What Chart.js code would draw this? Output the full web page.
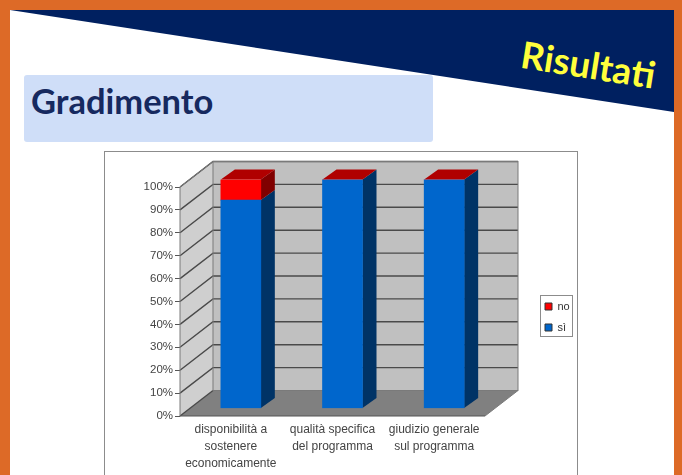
<!DOCTYPE html>
<html lang="it">
<head>
<meta charset="utf-8">
<title>Gradimento</title>
<script src="https://cdn.jsdelivr.net/npm/chart.js@4"></script>
<style>
  html, body { margin: 0; padding: 0; background: #fff; }
  #slide { position: relative; width: 682px; height: 475px; overflow: hidden; background: #fff; }
  #frame { position: absolute; inset: 0 0 -20px 0; border: solid #dd6a27; border-width: 10px 8px 0 10px; }
  #banner { position: absolute; left: 10px; top: 10px; width: 664px; height: 102px; background: #002060; clip-path: polygon(0 0, 100% 0, 100% 100%); }
  #section { position: absolute; left: 24px; top: 75px; width: 409px; height: 67px; background: #cfdef8; border-radius: 3px; }
  #section span { position: absolute; left: 7px; top: 5px; font: bold 34.5px Lato, sans-serif; color: #16295f; }
  #tag { position: absolute; left: 525px; top: 31px; font: bold 37px Lato, sans-serif; color: #ffff3c; transform: rotate(9deg); transform-origin: left top; }
  #panel { position: absolute; left: 104px; top: 151px; width: 472px; height: 340px; background: #fff; border: 1px solid #8c8c8c; }
  canvas { position: absolute; left: 0; top: 0; }
</style>
</head>
<body>
<div id="slide">
  <div id="frame"></div>
  <div id="banner"></div>
  <div id="section"><span>Gradimento</span></div>
  <div id="tag">Risultati</div>
  <div id="panel"></div>
  <canvas id="chart" width="682" height="475"></canvas>
</div>
<script>
// --- data ---
const categories = [
  ["disponibilità a", "sostenere", "economicamente"],
  ["qualità specifica", "del programma"],
  ["giudizio generale", "sul programma"]
];
const si = [91, 100, 100];
const no = [9, 0, 0];

// fake 3D depth of the walls and of the bars
const wallDepth = { x: 33, y: -25.5 };
const barShift = { x: 10, y: -7.5 };
const barDepth = { x: 14, y: -10 };

const faceColors = {
  si: { side: "#003366", top: "#003a80" },
  no: { side: "#800000", top: "#b00000" }
};

function poly(ctx, pts, fill) {
  ctx.beginPath();
  pts.forEach((p, i) => i ? ctx.lineTo(p[0], p[1]) : ctx.moveTo(p[0], p[1]));
  ctx.closePath();
  ctx.fillStyle = fill;
  ctx.fill();
}

// walls, floor and gridlines behind the bars, then the bar extrusions
const box3d = {
  id: "box3d",
  beforeLayout(chart) {
    // reserve the space right of the plot without tying it to the legend size
    const legend = chart.legend;
    if (!legend || legend.fitWrapped) return;
    const fit = legend.fit;
    legend.fit = function () { fit.call(this); this.width = 197; };
    legend.fitWrapped = true;
  },
  afterLayout(chart) {
    // legend floats in the right margin; bottom is left generous so items never wrap
    const l = chart.legend;
    l.left = 535; l.right = 577; l.top = 291; l.bottom = 370;
    l.width = 42; l.height = 79;
  },
  beforeDatasetsDraw(chart) {
    const { ctx, chartArea: a, scales: { y } } = chart;
    const dx = wallDepth.x, dy = wallDepth.y;

    poly(ctx, [[a.left + dx, a.top + dy], [a.right + dx, a.top + dy], [a.right + dx, a.bottom + dy], [a.left + dx, a.bottom + dy]], "#c0c0c0");
    poly(ctx, [[a.left, a.top], [a.left + dx, a.top + dy], [a.left + dx, a.bottom + dy], [a.left, a.bottom]], "#cfcfcf");
    poly(ctx, [[a.left, a.bottom], [a.right, a.bottom], [a.right + dx, a.bottom + dy], [a.left + dx, a.bottom + dy]], "#808080");

    ctx.save();
    ctx.strokeStyle = "#4a4a4a";
    ctx.lineWidth = 1.4;
    y.ticks.forEach(t => {
      const py = y.getPixelForValue(t.value);
      ctx.beginPath();
      ctx.moveTo(a.left, py);
      ctx.lineTo(a.left + dx, py + dy);
      if (t.value > 0) ctx.lineTo(a.right + dx, py + dy);
      ctx.stroke();
    });
    ctx.strokeStyle = "#7a7a7a";
    ctx.lineWidth = 1;
    ctx.strokeRect(a.left + dx, a.top + dy, a.right - a.left, a.bottom - a.top);
    ctx.beginPath();
    ctx.moveTo(a.left, a.bottom);
    ctx.lineTo(a.left, a.top);
    ctx.lineTo(a.left + dx, a.top + dy);
    ctx.moveTo(a.right, a.bottom);
    ctx.lineTo(a.right + dx, a.bottom + dy);
    ctx.stroke();
    ctx.strokeStyle = "#555";
    ctx.beginPath();
    ctx.moveTo(a.left, a.bottom);
    ctx.lineTo(a.right, a.bottom);
    ctx.stroke();

    // legend frame
    const l = chart.legend;
    ctx.strokeStyle = "#8c8c8c";
    ctx.strokeRect(l.left + 5.5, l.top + 4.5, 32, 41);
    ctx.restore();

    // side and top faces, lower series first
    ctx.save();
    ctx.translate(barShift.x, barShift.y);
    const top = chart.data.datasets.length - 1;
    chart.data.datasets.forEach((ds, i) => {
      const colors = i === 0 ? faceColors.si : faceColors.no;
      chart.getDatasetMeta(i).data.forEach(bar => {
        const left = bar.x - bar.width / 2, right = bar.x + bar.width / 2;
        poly(ctx, [[right, bar.y], [right + barDepth.x, bar.y + barDepth.y], [right + barDepth.x, bar.base + barDepth.y], [right, bar.base]], colors.side);
        if (i === top) {
          poly(ctx, [[left, bar.y], [left + barDepth.x, bar.y + barDepth.y], [right + barDepth.x, bar.y + barDepth.y], [right, bar.y]], colors.top);
        }
      });
    });
    ctx.restore();

    // front faces are drawn by the bar controller on the shifted plane
    ctx.save();
    ctx.translate(barShift.x, barShift.y);
  },
  afterDatasetsDraw(chart) {
    chart.ctx.restore();
  }
};

new Chart(document.getElementById("chart"), {
  type: "bar",
  data: {
    labels: categories,
    datasets: [
      { label: "sì", data: si, backgroundColor: "#0066cc" },
      { label: "no", data: no, backgroundColor: "#ff0000" }
    ]
  },
  options: {
    responsive: false,
    animation: false,
    events: [],
    layout: { padding: { top: 187 } },
    datasets: { bar: { barThickness: 40 } },
    plugins: {
      tooltip: { enabled: false },
      legend: {
        position: "right",
        reverse: true,
        align: "start",
        labels: {
          boxWidth: 7,
          boxHeight: 7,
          padding: 10,
          color: "#333",
          font: { family: "Liberation Sans", size: 11 },
          // darker swatch outline
          generateLabels: chart => Chart.defaults.plugins.legend.labels.generateLabels(chart)
            .map(item => ({ ...item, strokeStyle: "#333", lineWidth: 1 }))
        }
      }
    },
    scales: {
      x: {
        stacked: true,
        afterFit: s => { s.height = 59; },
        grid: { display: false },
        border: { display: false },
        ticks: {
          maxRotation: 0,
          autoSkip: false,
          padding: -3,
          color: "#444",
          font: { family: "Liberation Sans", size: 12, lineHeight: 1.42 }
        }
      },
      y: {
        stacked: true,
        min: 0,
        max: 100,
        afterFit: s => { s.width = 180; },
        grid: { drawOnChartArea: false, tickLength: 5, color: "#555" },
        border: { display: false },
        ticks: {
          stepSize: 10,
          padding: 2,
          color: "#444",
          font: { family: "Liberation Sans", size: 11.5 },
          callback: v => v + "%"
        }
      }
    }
  },
  plugins: [box3d]
});
</script>
</body>
</html>
